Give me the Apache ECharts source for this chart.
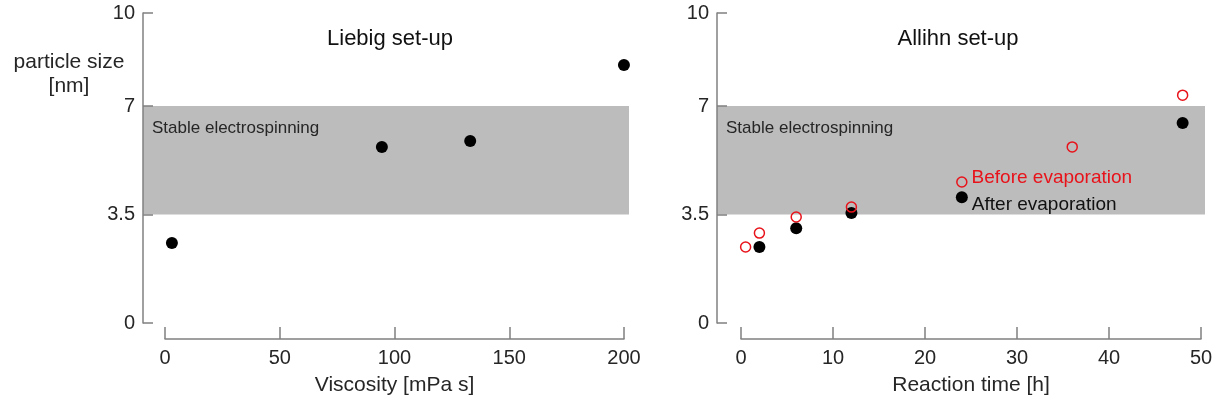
<!DOCTYPE html>
<html>
<head>
<meta charset="utf-8">
<script src="https://cdn.jsdelivr.net/npm/echarts@6/dist/echarts.min.js"></script>
<style>
html,body{margin:0;padding:0;background:#fff;}
#c{width:1217px;height:407px;}
</style>
</head>
<body>
<div id="c"></div>
<script>
// ---- data ----
const viscosity = [3, 94.5, 133, 200];
const liebigSize = [2.58, 5.68, 5.87, 8.32];
const timeBefore = [0.5, 2, 6, 12, 24, 36, 48];
const sizeBefore = [2.45, 2.90, 3.42, 3.74, 4.55, 5.68, 7.35];
const timeAfter = [2, 6, 12, 24, 48];
const sizeAfter = [2.45, 3.06, 3.55, 4.06, 6.45];
const stableRange = [3.5, 7];
const yTicks = [0, 3.5, 7, 10];

const FONT = '"Liberation Sans", Arial, sans-serif';
const AX = '#808080';
const TXT = '#262626';
const RED = '#e8121a';

function yAxisVisible(gi) {
  return {
    type: 'value', gridIndex: gi, min: 0, max: 10, z: 5,
    axisLine: {show: true, onZero: false, lineStyle: {color: AX, width: 1.5}},
    axisTick: {show: true, inside: true, length: 10, customValues: yTicks, lineStyle: {color: AX, width: 1.5}},
    axisLabel: {show: true, customValues: yTicks, margin: 8, color: TXT, fontSize: 20, fontFamily: FONT},
    splitLine: {show: false}
  };
}
function yAxisHidden(gi) {
  return {type: 'value', gridIndex: gi, min: 0, max: 10, show: false};
}
function xAxisVisible(gi, max, interval, name) {
  return {
    type: 'value', gridIndex: gi, min: 0, max: max, interval: interval,
    axisLine: {show: true, onZero: false, lineStyle: {color: AX, width: 1.5}},
    axisTick: {show: true, inside: true, length: 12, lineStyle: {color: AX, width: 1.5}},
    axisLabel: {show: true, margin: 9, color: TXT, fontSize: 20, fontFamily: FONT},
    splitLine: {show: false},
    name: name, nameLocation: 'middle', nameGap: 36,
    nameTextStyle: {color: TXT, fontSize: 21, fontFamily: FONT}
  };
}
function xAxisHidden(gi, min, max) {
  return {type: 'value', gridIndex: gi, min: min, max: max, show: false};
}
function stableArea() {
  return {
    silent: true,
    itemStyle: {color: '#bcbcbc'},
    label: {show: true, position: 'insideTopLeft', offset: [4, 9], color: TXT, fontSize: 17, fontFamily: FONT},
    data: [[{yAxis: stableRange[0], name: 'Stable electrospinning'}, {yAxis: stableRange[1]}]]
  };
}
const pair = (xs, ys) => xs.map((x, i) => [x, ys[i]]);

const beforeData = pair(timeBefore, sizeBefore).map(v => v[0] === 24
  ? {value: v, label: {show: true, formatter: 'Before evaporation', position: 'right', distance: 4, offset: [0, -4], color: RED, fontSize: 19, fontFamily: FONT}}
  : v);
const afterData = pair(timeAfter, sizeAfter).map(v => v[0] === 24
  ? {value: v, label: {show: true, formatter: 'After evaporation', position: 'right', distance: 4, offset: [0, 8], color: '#111', fontSize: 19, fontFamily: FONT}}
  : v);

const option = {
  animation: false,
  backgroundColor: '#fff',
  title: [
    {text: 'Liebig set-up', left: 385, top: 23, textAlign: 'center', textStyle: {color: '#111', fontSize: 22, fontWeight: 'normal', fontFamily: FONT}},
    {text: 'Allihn set-up', left: 953, top: 23, textAlign: 'center', textStyle: {color: '#111', fontSize: 22, fontWeight: 'normal', fontFamily: FONT}},
    {text: 'particle size\n[nm]', left: 64, top: 45, textAlign: 'center', textStyle: {color: TXT, fontSize: 21, fontWeight: 'normal', fontFamily: FONT, lineHeight: 24, align: 'center'}}
  ],
  grid: [
    {left: 143, top: 13, width: 486, height: 310},
    {left: 165, top: 300, width: 459, height: 39},
    {left: 717, top: 13, width: 488, height: 310},
    {left: 741, top: 300, width: 460, height: 39}
  ],
  xAxis: [
    xAxisHidden(0, -9.6, 202.2),
    xAxisVisible(1, 200, 50, 'Viscosity [mPa s]'),
    xAxisHidden(2, -2.61, 50.43),
    xAxisVisible(3, 50, 10, 'Reaction time [h]')
  ],
  yAxis: [
    yAxisVisible(0),
    yAxisHidden(1),
    yAxisVisible(2),
    yAxisHidden(3)
  ],
  series: [
    {
      type: 'scatter', xAxisIndex: 0, yAxisIndex: 0, symbolSize: 12,
      itemStyle: {color: '#000', opacity: 1},
      data: pair(viscosity, liebigSize),
      markArea: stableArea(), z: 3
    },
    {
      type: 'scatter', xAxisIndex: 2, yAxisIndex: 2, symbolSize: 12,
      itemStyle: {color: '#000', opacity: 1},
      data: afterData,
      markArea: stableArea(), z: 3
    },
    {
      type: 'scatter', xAxisIndex: 2, yAxisIndex: 2, symbolSize: 10,
      itemStyle: {color: 'rgba(0,0,0,0)', borderColor: RED, borderWidth: 1.5, opacity: 1},
      data: beforeData, z: 4
    }
  ]
};
const chart = echarts.init(document.getElementById('c'), null, {renderer: 'canvas'});
chart.setOption(option);
</script>
</body>
</html>
